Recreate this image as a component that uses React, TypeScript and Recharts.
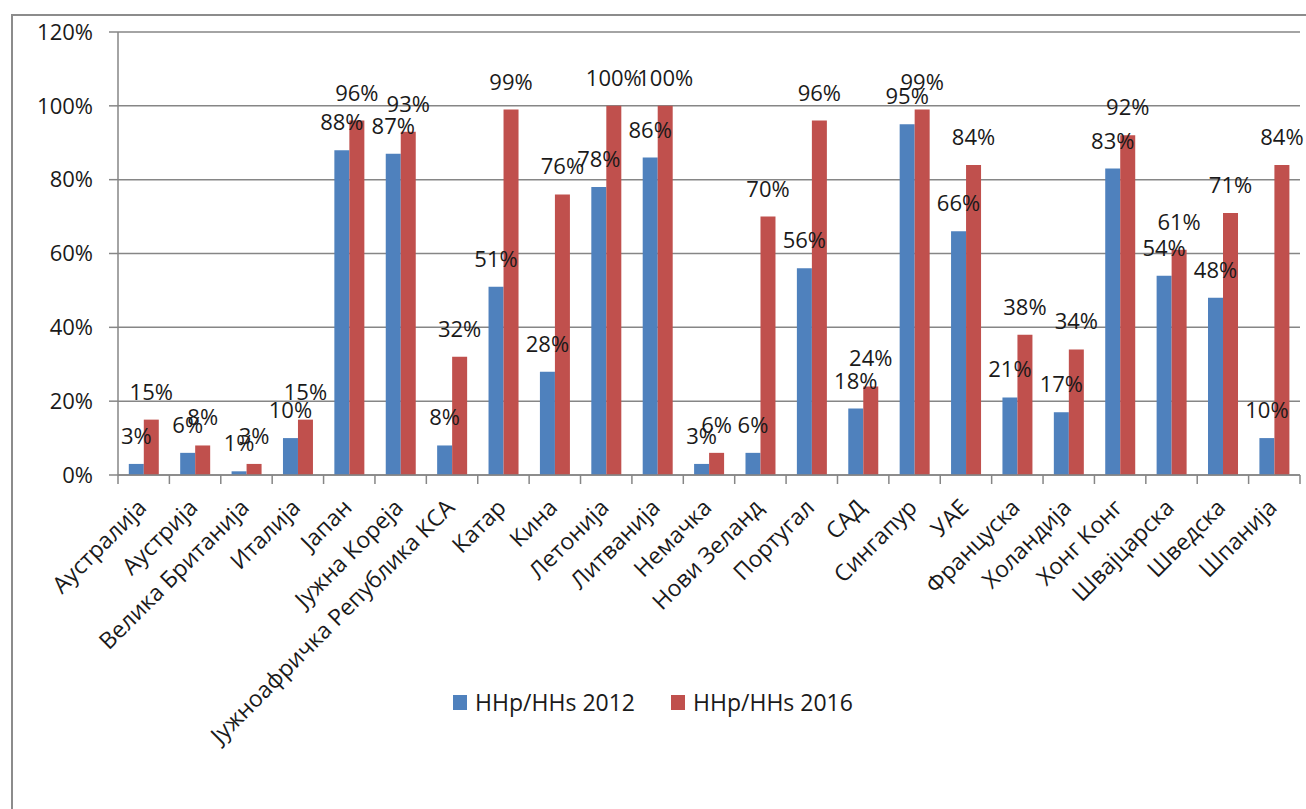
import React from 'react';
import { BarChart, Bar, XAxis, YAxis, CartesianGrid, Legend, LabelList } from 'recharts';

const CATEGORIES = [
  'Аустралија', 'Аустрија', 'Велика Британија', 'Италија', 'Јапан', 'Јужна Кореја',
  'Јужноафричка Република КСА', 'Катар', 'Кина', 'Летонија', 'Литванија', 'Немачка',
  'Нови Зеланд', 'Португал', 'САД', 'Сингапур', 'УАЕ', 'Француска', 'Холандија',
  'Хонг Конг', 'Швајцарска', 'Шведска', 'Шпанија',
];
const SERIES_2012 = [3, 6, 1, 10, 88, 87, 8, 51, 28, 78, 86, 3, 6, 56, 18, 95, 66, 21, 17, 83, 54, 48, 10];
const SERIES_2016 = [15, 8, 3, 15, 96, 93, 32, 99, 76, 100, 100, 6, 70, 96, 24, 99, 84, 38, 34, 92, 61, 71, 84];
const Y_TICKS = [0, 20, 40, 60, 80, 100, 120];
const SERIES_NAMES = ['HHp/HHs 2012', 'HHp/HHs 2016'];

const COLORS = {
  s2012: '#4F81BD', // blue
  s2016: '#C0504D', // red
};

const FONT = '"Open Sans", "Noto Sans", sans-serif';
const GRID = '#868686';

const W = 1306;
const H = 809;
const PLOT_LEFT = 118;
const PLOT_RIGHT = 1300;
const BAND = (PLOT_RIGHT - PLOT_LEFT) / CATEGORIES.length;

const data = CATEGORIES.map((name, i) => ({
  name,
  v2012: SERIES_2012[i],
  v2016: SERIES_2016[i],
}));

// Excel style category tick: tick marks sit between categories, labels at 45deg
const CategoryTick = ({ x, y, payload, index }: any) => {
  const left = x - BAND / 2;
  const ax = x + 4;
  const ay = y + 34;
  return (
    <g>
      <line x1={left} y1={y} x2={left} y2={y + 9} stroke={GRID} strokeWidth={1.5} />
      {index === CATEGORIES.length - 1 && (
        <line x1={x + BAND / 2} y1={y} x2={x + BAND / 2} y2={y + 9} stroke={GRID} strokeWidth={1.5} />
      )}
      <text
        x={ax}
        y={ay}
        transform={`rotate(-45, ${ax}, ${ay})`}
        textAnchor="end"
        fill="#1a1a1a"
        fontSize={23}
        fontFamily={FONT}
      >
        {payload.value}
      </text>
    </g>
  );
};

const CustomLegend = () => (
  <div style={{ display: 'flex', justifyContent: 'center', gap: 36, fontFamily: FONT, fontSize: 23, color: '#1a1a1a' }}>
    {[COLORS.s2012, COLORS.s2016].map((c, i) => (
      <div key={i} style={{ display: 'flex', alignItems: 'center', gap: 8 }}>
        <div style={{ width: 14, height: 15, background: c }} />
        <span>{SERIES_NAMES[i]}</span>
      </div>
    ))}
  </div>
);

const labelStyle = { fontSize: 22, fill: '#1a1a1a', fontFamily: FONT };

export default function App() {
  return (
    <div style={{ position: 'absolute', left: 0, top: 0, width: W, height: H, overflow: 'hidden', background: '#fff' }}>
      <div
        style={{
          position: 'absolute', left: 11, top: 14, width: W, height: H + 20,
          border: '2px solid #8c8c8c', boxSizing: 'border-box',
        }}
      />
      <div style={{ position: 'absolute', left: 0, top: 0 }}>
        <BarChart
          width={W}
          height={H}
          data={data}
          margin={{ top: 32, right: W - PLOT_RIGHT, left: 0, bottom: 0 }}
          barCategoryGap="21%"
          barGap={0}
        >
          <CartesianGrid vertical={false} stroke={GRID} strokeWidth={1.5} />
          <XAxis
            dataKey="name"
            interval={0}
            height={334}
            tickSize={0}
            tickMargin={0}
            tickLine={false}
            axisLine={{ stroke: GRID, strokeWidth: 1.5 }}
            tick={<CategoryTick />}
          />
          <YAxis
            domain={[0, 120]}
            ticks={Y_TICKS}
            width={PLOT_LEFT}
            tickSize={9}
            tickMargin={16}
            tickFormatter={(v) => `${v}%`}
            tickLine={{ stroke: GRID, strokeWidth: 1.5 }}
            axisLine={{ stroke: GRID, strokeWidth: 1.5 }}
            tick={{ fontSize: 22, fill: '#1a1a1a', fontFamily: FONT }}
          />
          <Bar dataKey="v2012" fill={COLORS.s2012} isAnimationActive={false}>
            <LabelList dataKey="v2012" position="top" offset={20} formatter={(v: any) => `${v}%`} style={labelStyle} />
          </Bar>
          <Bar dataKey="v2016" fill={COLORS.s2016} isAnimationActive={false}>
            <LabelList dataKey="v2016" position="top" offset={20} formatter={(v: any) => `${v}%`} style={labelStyle} />
          </Bar>
          <Legend
            verticalAlign="middle"
            content={<CustomLegend />}
            wrapperStyle={{ top: 686, left: 0, width: W }}
          />
        </BarChart>
      </div>
    </div>
  );
}
